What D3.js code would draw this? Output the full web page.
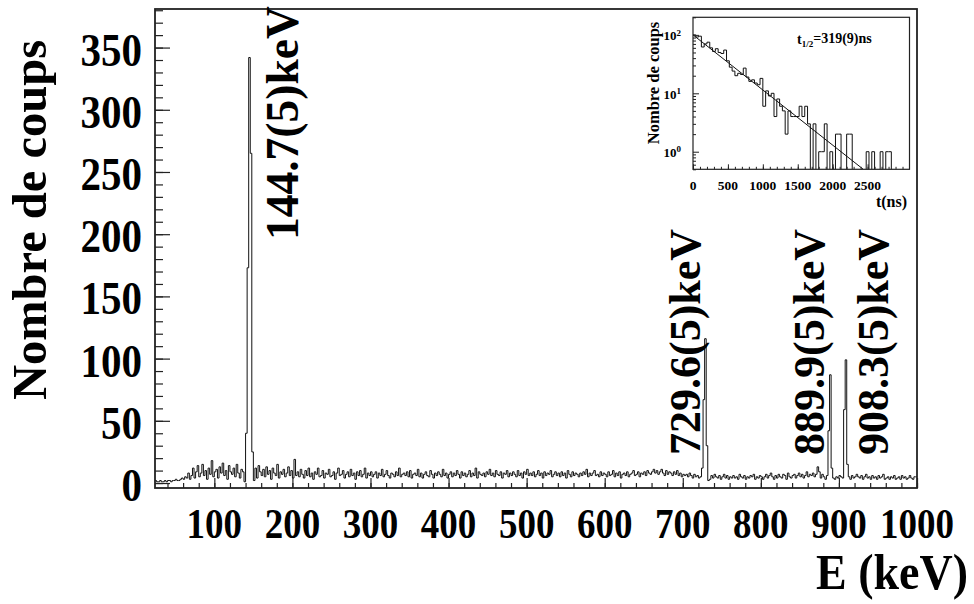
<!DOCTYPE html>
<html>
<head>
<meta charset="utf-8">
<script src="https://cdn.jsdelivr.net/npm/d3@7"></script>
<style>
  html, body { margin: 0; padding: 0; background: #fff; }
  svg { display: block; }
  text { font-family: "Liberation Serif", "Times New Roman", serif; font-weight: bold; fill: #000; }
</style>
</head>
<body>
<svg id="chart" width="974" height="604"></svg>
<script>
// ---------------- Main spectrum data ----------------
const binLow = 24;      // keV, lower edge of first bin
const binWidth = 2;     // keV
const xRange = [24, 1000];
const yRange = [-4, 381];
// counts per bin, 10 bins (20 keV) per row; row start energy in comment
const counts = [
  2,1,1,2,1,1,2,1,2,2,          // 24
  1,2,2,3,2,2,3,4,3,5,          // 44
  4,8,3,6,12,4,9,14,5,8,        // 64
  15,6,10,3,12,7,18,5,9,11,     // 84
  4,13,8,16,6,10,3,14,9,7,      // 104
  12,5,15,8,4,11,9,1,40,173,    // 124
  342,265,25,2,12,4,14,9,6,11,  // 144
  5,13,7,10,3,12,8,6,15,4,      // 164
  9,7,11,5,8,13,6,10,4,19,      // 184
  6,9,5,11,7,4,10,6,12,5,       // 204
  8,3,9,7,12,5,6,10,4,8,        // 224
  7,11,5,6,9,3,8,12,6,7,        // 244
  10,4,7,9,5,11,6,8,3,9,        // 264
  6,10,5,7,12,4,8,6,9,5,        // 284
  7,9,4,8,6,11,5,7,10,6,        // 304
  4,8,7,5,9,6,12,5,7,8,         // 324
  6,9,5,10,4,7,8,6,11,5,        // 344
  8,4,7,9,6,5,10,7,4,8,         // 364
  6,9,7,5,11,6,8,4,7,9,         // 384
  5,8,6,10,7,4,9,6,8,5,         // 404
  7,10,5,8,6,12,4,9,7,6,        // 424
  8,5,9,7,11,6,8,5,10,7,        // 444
  6,9,4,8,7,10,5,8,6,9,         // 464
  7,5,10,6,8,4,9,7,11,6,        // 484
  8,6,9,5,7,10,6,8,4,9,         // 504
  6,8,7,10,5,7,9,6,8,5,         // 524
  9,6,8,4,10,7,5,9,6,8,         // 544
  7,5,8,6,9,7,11,5,8,6,         // 564
  8,10,6,7,5,9,6,8,7,5,         // 584
  9,6,7,10,5,8,6,9,4,7,         // 604
  8,6,9,5,7,8,10,6,7,9,         // 624
  5,8,7,9,6,10,8,7,9,11,        // 644
  8,10,7,9,11,8,6,10,7,9,       // 664
  8,6,9,7,10,6,8,5,7,6,         // 684
  7,5,8,6,4,7,5,6,4,5,          // 704
  12,67,116,30,2,3,6,4,7,5,     // 724
  4,6,3,5,7,4,6,3,5,4,          // 744
  6,4,5,3,7,5,4,6,3,5,          // 764
  4,6,5,7,3,5,4,6,5,3,          // 784
  5,7,4,6,8,5,3,6,4,7,          // 804
  5,4,7,6,3,8,5,4,6,7,          // 824
  4,6,8,5,7,4,6,9,5,7,          // 844
  6,8,5,7,13,9,4,7,5,3,         // 864
  6,42,87,12,4,3,5,4,6,5,       // 884
  4,59,99,15,5,3,6,4,5,7,       // 904
  5,4,6,3,5,7,4,5,3,6,          // 924
  4,5,3,6,4,5,7,3,4,5,          // 944
  3,5,4,6,3,4,5,3,6,4,          // 964
  5,3,4,6,4,3,5,5               // 984
];
const xTickValues = [100, 200, 300, 400, 500, 600, 700, 800, 900, 1000];
const yTickValues = [0, 50, 100, 150, 200, 250, 300, 350];
const peakEnergies = [144.7, 729.6, 889.9, 908.3];
const peakLabels = ["144.7(5)keV", "729.6(5)keV", "889.9(5)keV", "908.3(5)keV"];
const xTitle = "E (keV)";
const yTitle = "Nombre de coups";

// ---------------- Inset (time spectrum) data ----------------
const tBinWidth = 40; // ns
const tCounts = [
  100,92,95,62,70,75,60,52,58,50,     // 0
  48,55,36,28,24,20,22,21,27,19,      // 400
  16,17,15,14,18,6,11,9,10,4,         // 800
  8,6,5,2,5,4,4,4,6,4,                // 1200
  6,3,0,3,0,1,1,3,0,1,                // 1600
  0,2,2,0,0,2,2,0,0,0,                // 2000
  0,0,1,0,1,0,0,1,0,1,                // 2400
  1,0                                  // 2800
];
const tRange = [0, 3100];
const tYRange = [0.5, 200];
const tTickValues = [0, 500, 1000, 1500, 2000, 2500];
const fitAmplitude = 100;  // counts at t=0
const halfLife = 319;      // ns
const insetTitle = "Nombre de coups";
const insetXTitle = "t(ns)";

// ---------------- Drawing ----------------
const svg = d3.select("#chart");
const frame = { left: 155, right: 917, top: 9, bottom: 488 };

const x = d3.scaleLinear().domain(xRange).range([frame.left, frame.right]);
const y = d3.scaleLinear().domain(yRange).range([frame.bottom, frame.top]);

svg.append("defs").append("clipPath").attr("id", "mainClip")
  .append("rect").attr("x", frame.left).attr("y", frame.top)
  .attr("width", frame.right - frame.left).attr("height", frame.bottom - frame.top);

// histogram outline
const histPts = counts.map((c, i) => [binLow + i * binWidth, c]);
histPts.push([binLow + counts.length * binWidth, counts[counts.length - 1]]);
const histLine = d3.line().x(d => x(d[0])).y(d => y(d[1])).curve(d3.curveStepAfter);
svg.append("path").attr("d", histLine(histPts))
  .attr("fill", "none").attr("stroke", "#111").attr("stroke-width", 1)
  .attr("clip-path", "url(#mainClip)");

// axes ticks (inside the frame, ROOT style)
const xMinor = d3.range(40, 1001, 20);
const gx = svg.append("g").attr("transform", `translate(0,${frame.bottom})`);
gx.call(d3.axisBottom(x).tickValues(xMinor).tickSize(-5).tickFormat(""));
gx.call(g => g.select(".domain").remove());
const gxMaj = svg.append("g").attr("transform", `translate(0,${frame.bottom})`);
gxMaj.call(d3.axisBottom(x).tickValues(xTickValues).tickSize(-10).tickFormat(""));
gxMaj.call(g => g.select(".domain").remove());

const yMinor = d3.range(0, 381, 10);
const gy = svg.append("g").attr("transform", `translate(${frame.left},0)`);
gy.call(d3.axisLeft(y).tickValues(yMinor).tickSize(-8).tickFormat(""));
gy.call(g => g.select(".domain").remove());
const gyMaj = svg.append("g").attr("transform", `translate(${frame.left},0)`);
gyMaj.call(d3.axisLeft(y).tickValues(yTickValues).tickSize(-15).tickFormat(""));
gyMaj.call(g => g.select(".domain").remove());
svg.selectAll(".tick line").attr("stroke", "#222").attr("stroke-width", 1.2);

// frame
svg.append("rect").attr("x", frame.left).attr("y", frame.top)
  .attr("width", frame.right - frame.left).attr("height", frame.bottom - frame.top)
  .attr("fill", "none").attr("stroke", "#222").attr("stroke-width", 1.8);

// tick labels (slightly condensed, tall glyphs)
const stretch = 1.15;
svg.append("g").selectAll("text").data(xTickValues).join("text")
  .attr("transform", d => `translate(${x(d)},538) scale(1,${stretch})`)
  .attr("text-anchor", "middle").attr("font-size", 37)
  .text(d => d);
svg.append("g").selectAll("text").data(yTickValues).join("text")
  .attr("transform", d => `translate(142,${y(d) + 2}) scale(1,${stretch})`)
  .attr("dy", "0.34em")
  .attr("text-anchor", "end").attr("font-size", 41)
  .text(d => d);

// axis titles
svg.append("text").attr("transform", `translate(968,589) scale(1,1.1)`)
  .attr("text-anchor", "end").attr("font-size", 46).text(xTitle);
svg.append("text").attr("transform", "translate(46,220) rotate(-90)")
  .attr("text-anchor", "middle").attr("font-size", 48.5).text(yTitle);

// peak labels
const peakLabelPos = [
  { bx: 298, by: 240, fs: 45.5 },
  { bx: 700, by: 455, fs: 44 },
  { bx: 824, by: 455, fs: 44 },
  { bx: 888, by: 455, fs: 44 }
];
peakLabels.forEach((lab, i) => {
  svg.append("text")
    .attr("transform", `translate(${peakLabelPos[i].bx},${peakLabelPos[i].by}) rotate(-90)`)
    .attr("font-size", peakLabelPos[i].fs).text(lab);
});

// ---------------- Inset ----------------
const ins = { left: 693, right: 909.5, top: 17.3, bottom: 169.3 };
const xi = d3.scaleLinear().domain(tRange).range([ins.left, ins.right]);
const yi = d3.scaleLog().domain(tYRange).range([ins.bottom, ins.top]);

svg.append("rect").attr("x", ins.left).attr("y", ins.top)
  .attr("width", ins.right - ins.left).attr("height", ins.bottom - ins.top)
  .attr("fill", "#fff");
svg.select("defs").append("clipPath").attr("id", "insClip")
  .append("rect").attr("x", ins.left).attr("y", ins.top)
  .attr("width", ins.right - ins.left).attr("height", ins.bottom - ins.top);

const tPts = tCounts.map((c, i) => [i * tBinWidth, c]);
tPts.push([tCounts.length * tBinWidth, 0]);
const clampY = v => yi(Math.max(v, tYRange[0] * 0.9));
const tLine = d3.line().x(d => xi(d[0])).y(d => clampY(d[1])).curve(d3.curveStepAfter);
svg.append("path").attr("d", tLine(tPts))
  .attr("fill", "none").attr("stroke", "#111").attr("stroke-width", 1)
  .attr("clip-path", "url(#insClip)");

// fit line (exponential decay, straight on log scale)
const tEnd = halfLife * Math.log2(fitAmplitude / tYRange[0]);
const fitPts = [[0, fitAmplitude], [tEnd, tYRange[0]]];
svg.append("path")
  .attr("d", d3.line().x(d => xi(d[0])).y(d => yi(d[1])).curve(d3.curveLinear)(fitPts))
  .attr("fill", "none").attr("stroke", "#111").attr("stroke-width", 1)
  .attr("clip-path", "url(#insClip)");

// inset ticks
const tMinor = d3.range(0, 3001, 100);
const gxi = svg.append("g").attr("transform", `translate(0,${ins.bottom})`);
gxi.call(d3.axisBottom(xi).tickValues(tMinor).tickSize(-2.5).tickFormat(""));
gxi.call(g => g.select(".domain").remove());
const gxiM = svg.append("g").attr("transform", `translate(0,${ins.bottom})`);
gxiM.call(d3.axisBottom(xi).tickValues(tTickValues).tickSize(-5).tickFormat(""));
gxiM.call(g => g.select(".domain").remove());

const yiMinor = [0.5,0.6,0.7,0.8,0.9,2,3,4,5,6,7,8,9,20,30,40,50,60,70,80,90,200];
const yiMajor = [1, 10, 100];
const gyi = svg.append("g").attr("transform", `translate(${ins.left},0)`);
gyi.call(d3.axisLeft(yi).tickValues(yiMinor).tickSize(-3).tickFormat(""));
gyi.call(g => g.select(".domain").remove());
const gyiM = svg.append("g").attr("transform", `translate(${ins.left},0)`);
gyiM.call(d3.axisLeft(yi).tickValues(yiMajor).tickSize(-6).tickFormat(""));
gyiM.call(g => g.select(".domain").remove());
[gxi, gxiM, gyi, gyiM].forEach(g => g.selectAll("line").attr("stroke", "#222").attr("stroke-width", 1));

svg.append("rect").attr("x", ins.left).attr("y", ins.top)
  .attr("width", ins.right - ins.left).attr("height", ins.bottom - ins.top)
  .attr("fill", "none").attr("stroke", "#222").attr("stroke-width", 1.2);

// inset tick labels
svg.append("g").selectAll("text").data(tTickValues).join("text")
  .attr("x", d => xi(d)).attr("y", 190).attr("text-anchor", "middle")
  .attr("font-size", 13.5).text(d => d);
const yiLab = svg.append("g").selectAll("text").data(yiMajor).join("text")
  .attr("x", 681).attr("y", d => yi(d)).attr("dy", "0.4em")
  .attr("text-anchor", "end").attr("font-size", 13);
yiLab.append("tspan").text("10");
yiLab.append("tspan").attr("dy", "-0.5em").attr("font-size", 9)
  .text(d => String(Math.round(Math.log10(d))));

svg.append("text").attr("x", 907).attr("y", 207).attr("text-anchor", "end")
  .attr("font-size", 16).text(insetXTitle);
svg.append("text").attr("transform", "translate(659,83) rotate(-90)")
  .attr("text-anchor", "middle").attr("font-size", 16.5).text(insetTitle);

const tl = svg.append("text").attr("x", 797).attr("y", 44).attr("font-size", 14);
tl.append("tspan").text("t");
tl.append("tspan").attr("font-size", 9).attr("dy", "0.3em").text("1/2");
tl.append("tspan").attr("dy", "-0.3em").text("=319(9)ns");
</script>
</body>
</html>
